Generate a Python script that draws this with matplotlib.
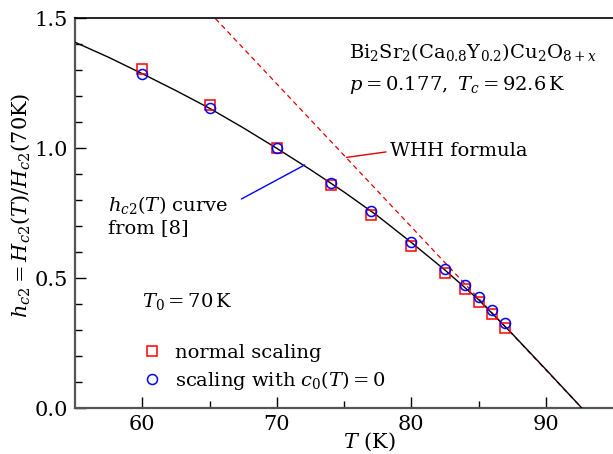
import matplotlib
matplotlib.use("Agg")
import matplotlib.pyplot as plt

plt.rcParams['font.family'] = ['DejaVu Serif']
plt.rcParams['mathtext.fontset'] = 'dejavuserif'

# data
T_pts = [60, 65, 70, 74, 77, 80, 82.5, 84, 85, 86, 87]
h_normal = [1.304, 1.165, 1.0, 0.858, 0.745, 0.625, 0.519, 0.458, 0.410, 0.363, 0.310]
h_c0zero = [1.285, 1.156, 1.002, 0.865, 0.757, 0.638, 0.536, 0.474, 0.429, 0.379, 0.329]

T_curve = [55, 57.5, 60, 62.5, 65, 67.5, 70, 72.5, 75, 77.5, 80, 82.5, 85, 87.5, 90, 92.7]
h_curve = [1.408, 1.350, 1.287, 1.222, 1.154, 1.079, 1.0, 0.918, 0.832, 0.740, 0.638,
           0.532, 0.418, 0.287, 0.150, 0.0]

T_whh = [65, 70, 75, 80, 85, 90, 92.7]
h_whh = [1.523, 1.248, 0.973, 0.698, 0.423, 0.148, 0.0]

x_ticks = [60, 70, 80, 90]
y_ticks = [0.0, 0.5, 1.0, 1.5]

fig = plt.figure(figsize=(6.13, 4.54), dpi=100)
ax = fig.add_axes([75/613, 1-408.3/454, 1-75/613, (408.3-18.3)/454])

ax.plot(T_whh, h_whh, color='#e00000', lw=0.9, dashes=(4, 3), zorder=2)
ax.plot(T_curve, h_curve, color='black', lw=1.0, zorder=3)
ax.plot(T_pts, h_normal, ls='none', marker='s', ms=7.5, mfc='none', mec='#ff0000',
        mew=1.1, label='normal scaling', zorder=4)
ax.plot(T_pts, h_c0zero, ls='none', marker='o', ms=7.2, mfc='none', mec='#0000ff',
        mew=1.1, label=r'scaling with $c_0(T)=0$', zorder=5)

ax.set_xlim(55, 95)
ax.set_ylim(0, 1.5)
ax.set_xticks(x_ticks)
ax.set_yticks(y_ticks)
ax.set_xticklabels([str(t) for t in x_ticks])
ax.set_yticklabels([f"{v:.1f}" for v in y_ticks])
ax.set_xticks([65, 75, 85], minor=True)
ax.set_yticks([0.1, 0.2, 0.3, 0.4, 0.6, 0.7, 0.8, 0.9, 1.1, 1.2, 1.3, 1.4], minor=True)
ax.tick_params(which='both', direction='in', labelsize=15, colors='black')
ax.tick_params(which='major', length=8, width=1.0, pad=5)
ax.tick_params(which='minor', length=5, width=1.0)
ax.tick_params(axis='y', pad=5)

for s in ['left', 'bottom']:
    ax.spines[s].set_linewidth(1.6)
    ax.spines[s].set_color('#555555')
ax.spines['top'].set_linewidth(1.2)
ax.spines['top'].set_color('black')
ax.spines['right'].set_visible(False)

ax.set_xlabel(r'$T$ (K)', fontsize=15)
ax.xaxis.set_label_coords(0.548, -0.0864)
ax.xaxis.label.set_va('center')
ax.set_ylabel(r'$h_{c2} = H_{c2}(T)/H_{c2}$(70K)', fontsize=15)
ax.yaxis.set_label_coords(-0.100, 0.521)
ax.yaxis.label.set_va('center')

ax.text(75.36, 1.372, r'Bi$_2$Sr$_2$(Ca$_{0.8}$Y$_{0.2}$)Cu$_2$O$_{8+x}$', fontsize=14,
        ha='left', va='center')
ax.text(75.36, 1.243, r'$p=0.177,\ T_c=92.6\,$K', fontsize=14, ha='left', va='center')
ax.text(60, 0.41, r'$T_0=70\,$K', fontsize=14, ha='left', va='center')

# WHH label and leader
ax.text(78.41, 0.991, 'WHH formula', fontsize=14, ha='left', va='center')
ax.annotate('', xy=(75.19, 0.965), xytext=(78.12, 0.986),
            arrowprops=dict(arrowstyle='-', color='#e00000', lw=1.0,
                            shrinkA=0, shrinkB=0))
# curve label and leader
ax.text(57.42, 0.742, '$h_{c2}(T)$ curve\nfrom [8]', fontsize=14, ha='left',
        va='center', linespacing=1.25)
ax.annotate('', xy=(72.08, 0.936), xytext=(67.37, 0.805),
            arrowprops=dict(arrowstyle='-', color='#0000ff', lw=1.0,
                            shrinkA=0, shrinkB=0))

leg = ax.legend(loc='upper left', bbox_to_anchor=(0.1245, 0.165), frameon=False,
                fontsize=14, handlelength=1.0, handletextpad=0.7, borderpad=0,
                labelspacing=0.36, borderaxespad=0)

fig.savefig('out.png', dpi=100)
